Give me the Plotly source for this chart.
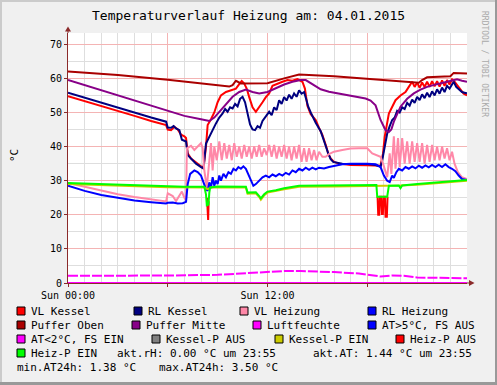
import plotly.graph_objects as go

# ---------------- data (hours since Sun 00:00, °C) ----------------
T_VL_KESSEL = [0, 1, 2, 3, 4, 5, 5.9, 6.0, 6.2, 6.4, 6.6, 6.8, 7.0, 7.1, 7.2, 7.4, 7.7, 8.0, 8.15, 8.3, 8.4,
               8.6, 8.8, 9.0, 9.2, 9.5, 9.8, 10.1, 10.3, 10.45, 10.6, 10.75, 10.9, 11.1, 11.3, 11.5, 11.7, 11.9,
               12.1, 12.3, 12.6, 12.9, 13.2, 13.5, 13.8, 14.1, 14.25, 14.4, 14.6, 14.9, 15.1, 15.3, 15.5, 15.65,
               15.8, 16.0, 16.3, 17.0, 18.0, 18.8, 18.95, 19.05, 19.3, 19.5, 19.7, 20.0, 20.3, 20.5, 20.7, 20.85,
               21.0, 21.15, 21.3, 21.45, 21.6, 21.75, 21.9, 22.05, 22.2, 22.35, 22.5, 22.65, 22.8, 22.95, 23.1,
               23.25, 23.4, 23.6, 23.8, 24.0]
VL_KESSEL = [54.8, 53.4, 52.0, 50.5, 49.0, 47.5, 46.3, 45.0, 44.8, 45.8, 45.0, 43.5, 43.0, 42.5, 38.0, 36.5, 35.3,
             34.2, 33.6, 40.0, 46.3, 48.0, 50.0, 53.0, 55.0, 56.0, 56.5, 57.0, 58.3, 59.2, 58.5, 57.0, 54.5, 51.5,
             50.2, 51.5, 53.0, 54.5, 55.6, 57.8, 58.5, 59.0, 59.5, 59.3, 59.8, 59.0, 57.0, 52.0, 49.5, 47.8, 45.5,
             43.4, 40.5, 38.0, 36.5, 35.5, 35.0, 34.6, 34.5, 34.4, 38.0, 42.9, 49.7, 51.8, 53.6, 55.0, 56.0, 57.5,
             59.0, 57.5, 58.8, 57.2, 58.8, 57.5, 59.0, 57.5, 59.2, 57.7, 59.2, 57.6, 59.4, 57.8, 59.5, 58.2, 59.7,
             59.0, 58.0, 56.5, 55.5, 55.0]

T_RL_KESSEL = [0, 1, 2, 3, 4, 5, 5.9, 6.0, 6.2, 6.35, 6.5, 6.7, 6.85, 7.0, 7.1, 7.2, 7.4, 7.7, 8.0, 8.15, 8.3,
               8.45, 8.6, 8.75, 8.9, 9.1, 9.3, 9.45, 9.6, 9.75, 9.9, 10.05, 10.2, 10.35, 10.5, 10.65, 10.8, 10.95,
               11.1, 11.25, 11.4, 11.55, 11.7, 11.9, 12.1, 12.25, 12.4, 12.55, 12.7, 12.85, 13.0, 13.15, 13.3,
               13.45, 13.6, 13.75, 13.9, 14.05, 14.2, 14.35, 14.45, 14.6, 14.9, 15.2, 15.4, 15.55, 15.65, 15.8,
               15.95, 16.2, 16.5, 17.0, 18.0, 18.5, 18.8, 18.9, 19.0, 19.2, 19.35, 19.5, 19.65, 19.8, 19.95, 20.1,
               20.25, 20.4, 20.55, 20.7, 20.85, 21.0, 21.15, 21.3, 21.45, 21.6, 21.75, 21.9, 22.05, 22.2, 22.35,
               22.5, 22.65, 22.8, 22.95, 23.1, 23.2, 23.35, 23.5, 23.7, 23.85, 24.0]
RL_KESSEL = [55.8, 54.3, 52.8, 51.3, 49.8, 48.5, 47.3, 45.6, 45.5, 46.0, 45.3, 44.8, 42.0, 41.8, 41.5, 37.5, 36.5,
             35.0, 34.0, 33.6, 40.9, 42.5, 43.8, 45.5, 46.8, 48.5, 49.7, 51.0, 50.2, 51.5, 51.2, 52.5, 51.8, 54.0,
             54.6, 53.0, 50.0, 46.5, 45.0, 44.8, 46.0, 45.5, 47.5, 48.7, 50.2, 49.2, 51.5, 50.7, 53.6, 52.5, 54.5,
             53.5, 55.2, 54.0, 55.6, 54.6, 56.5, 55.5, 56.0, 53.5, 51.7, 50.0, 47.0, 44.5, 41.9, 39.5, 38.0, 36.3,
             35.5, 35.2, 35.0, 34.9, 34.9, 34.6, 34.1, 36.0, 39.0, 43.8, 46.0, 47.8, 48.5, 50.5, 50.0, 51.5, 51.0,
             52.8, 52.0, 53.8, 52.8, 54.6, 53.6, 55.3, 54.2, 55.8, 54.5, 56.2, 55.0, 56.8, 55.5, 57.3, 56.0, 57.8,
             57.0, 58.5, 59.0, 57.5, 56.8, 56.0, 55.8, 55.6]

T_VL_HEIZUNG = [0, 1, 2, 3, 4, 5, 5.9, 6.0, 6.3, 6.5, 6.7, 6.85, 7.0, 7.1, 7.15, 7.4, 7.6, 7.8, 8.0, 8.1, 8.2,
                8.35, 8.45, 8.55, 8.6, 8.7, 8.8, 8.95, 9.1, 9.25, 9.4, 9.55, 9.7, 9.85, 10.0, 10.15, 10.3, 10.45,
                10.6, 10.75, 10.9, 11.05, 11.2, 11.35, 11.5, 11.65, 11.8, 11.95, 12.1, 12.25, 12.4, 12.55, 12.7,
                12.85, 13.0, 13.15, 13.3, 13.45, 13.6, 13.75, 13.9, 14.05, 14.2, 14.35, 14.5, 14.65, 14.8, 14.95,
                15.1, 15.3, 15.5, 15.7, 16.0, 16.5, 17.0, 17.5, 18.0, 18.3, 18.6, 18.8, 18.95, 19.1, 19.2, 19.35,
                19.45, 19.6, 19.7, 19.85, 19.95, 20.1, 20.25, 20.4, 20.55, 20.7, 20.85, 21.0, 21.15, 21.3, 21.45,
                21.6, 21.75, 21.9, 22.05, 22.2, 22.35, 22.5, 22.65, 22.8, 22.95, 23.1, 23.25, 23.45, 23.7, 24.0]
VL_HEIZUNG = [29.3, 28.2, 27.0, 26.0, 25.2, 24.5, 23.9, 26.3, 25.5, 24.0, 25.5, 26.8, 25.0, 24.3, 39.5, 40.2,
              39.0, 40.0, 41.0, 39.5, 33.0, 28.0, 34.0, 40.5, 41.0, 33.0, 40.0, 36.0, 41.5, 36.0, 41.0, 36.5, 40.5,
              36.0, 41.0, 37.0, 40.0, 36.5, 40.5, 37.0, 40.0, 36.5, 40.0, 37.0, 40.5, 37.0, 39.5, 37.5, 40.5, 37.0,
              40.5, 36.5, 40.0, 37.0, 40.5, 36.5, 40.0, 36.0, 40.0, 36.5, 40.5, 35.5, 39.5, 35.5, 39.5, 36.0, 39.0,
              36.0, 38.5, 37.0, 37.0, 37.8, 38.5, 39.0, 39.4, 39.5, 39.5, 38.0, 37.3, 37.0, 35.0, 32.5, 31.0, 38.0,
              32.0, 43.0, 33.5, 42.5, 34.0, 42.5, 35.0, 41.5, 35.0, 41.5, 35.5, 41.0, 35.5, 41.0, 35.0, 40.5, 35.5,
              40.5, 36.0, 40.0, 36.0, 40.0, 36.5, 39.5, 36.0, 38.5, 35.0, 32.5, 31.0, 30.5]

T_RL_HEIZUNG = [0, 1, 2, 3, 4, 5, 5.9, 6.0, 6.3, 6.6, 6.9, 7.1, 7.2, 7.35, 7.6, 7.8, 8.0, 8.15, 8.3, 8.4, 8.5,
                8.6, 8.7, 8.8, 8.9, 9.0, 9.1, 9.2, 9.35, 9.5, 9.65, 9.8, 9.95, 10.1, 10.25, 10.4, 10.55, 10.7,
                10.85, 11.0, 11.15, 11.3, 11.5, 11.7, 11.9, 12.1, 12.3, 12.5, 12.7, 12.9, 13.1, 13.3, 13.5, 13.7,
                13.9, 14.1, 14.3, 14.5, 14.7, 14.9, 15.1, 15.4, 15.7, 16.0, 16.5, 17.0, 17.5, 18.0, 18.5, 18.8,
                19.0, 19.2, 19.35, 19.5, 19.6, 19.75, 19.9, 20.1, 20.3, 20.5, 20.7, 20.9, 21.1, 21.3, 21.5, 21.7,
                21.9, 22.1, 22.3, 22.5, 22.7, 22.9, 23.1, 23.3, 23.5, 23.7, 24.0]
RL_HEIZUNG = [28.5, 27.0, 25.8, 25.0, 24.2, 23.7, 23.3, 23.5, 23.6, 23.3, 23.4, 23.8, 29.0, 32.0, 33.0, 32.5,
              31.5, 29.5, 27.5, 27.0, 29.5, 27.8, 31.0, 28.5, 30.0, 29.0, 31.5, 30.0, 32.0, 31.0, 32.5, 32.0, 33.5,
              33.0, 34.0, 33.5, 34.2, 33.5, 32.0, 30.0, 28.5, 29.0, 30.0, 31.0, 31.5, 31.0, 31.8, 31.3, 32.0, 31.5,
              32.3, 31.8, 33.0, 32.5, 33.5, 33.0, 33.8, 33.2, 33.8, 33.3, 33.8, 33.6, 34.0, 34.3, 34.8, 35.0, 35.1,
              35.0, 34.8, 34.0, 31.5, 30.0, 29.6, 31.5, 30.8, 32.5, 33.5, 33.0, 34.0, 33.5, 34.2, 33.6, 34.4, 33.8,
              34.5, 33.9, 34.6, 34.0, 34.7, 34.0, 34.8, 34.0, 33.5, 32.8, 31.5, 30.5, 30.2]

T_PUFFER_OBEN = [0, 3, 6, 9.7, 9.9, 10.1, 10.4, 12, 13, 13.9, 16, 18, 21.1, 21.3, 21.6, 23.0, 23.2, 24]
PUFFER_OBEN = [62.0, 61.0, 59.6, 57.6, 58.0, 59.3, 58.5, 58.6, 60.0, 61.1, 60.6, 59.9, 58.7, 59.5, 60.3, 60.6,
               61.6, 61.4]

T_PUFFER_MITTE = [0, 1, 2, 3, 4, 5, 6, 7, 8, 8.5, 8.8, 9.1, 9.5, 9.9, 10.3, 10.7, 11.1, 11.5, 12.0, 12.5, 13.0,
                  13.5, 14.0, 14.3, 14.8, 15.2, 15.7, 16.5, 17.5, 17.9, 18.2, 18.5, 18.8, 19.1, 19.3, 19.45, 19.6,
                  19.8, 20.0, 20.4, 20.8, 21.2, 21.6, 22.2, 22.8, 23.4, 23.7, 24]
PUFFER_MITTE = [59.5, 58.0, 56.5, 55.0, 53.3, 51.8, 50.3, 49.0, 48.0, 47.5, 48.5, 50.2, 52.5, 54.6, 56.0, 56.7,
                56.0, 55.6, 56.0, 57.2, 58.2, 59.0, 59.5, 59.5, 58.0, 56.8, 56.1, 55.4, 54.6, 54.1, 53.5, 52.1,
                47.8, 44.8, 44.3, 45.0, 47.3, 49.5, 51.7, 54.0, 55.6, 56.7, 57.5, 58.3, 59.0, 59.7, 59.3, 59.0]

T_LUFTFEUCHTE = [0, 3, 6, 9, 10.5, 12, 13, 14, 15, 16, 17.5, 18, 18.8, 19.5, 20.2, 21, 22, 23, 24]
LUFTFEUCHTE = [2.1, 2.1, 2.2, 2.4, 2.8, 3.1, 3.5, 3.5, 3.4, 3.2, 2.8, 2.4, 1.9, 2.2, 2.1, 1.6, 1.5, 1.5, 1.4]

T_AT_KALT = [0, 24]
AT_KALT = [0, 0]

T_KESSEL_P_EIN = [0, 2, 4, 6, 8.2, 8.4, 8.6, 10.7, 10.8, 11.3, 11.5, 11.6, 11.8, 12, 13, 13.9, 16, 18, 19, 20,
                  21, 22, 23, 24]
KESSEL_P_EIN = [29.0, 28.7, 28.4, 28.1, 28.0, 27.5, 28.0, 28.0, 26.2, 26.3, 25.2, 24.4, 25.7, 26.5, 27.5, 28.2,
                28.3, 28.4, 28.5, 28.6, 28.8, 29.2, 29.6, 30.0]

T_HEIZ_P_AUS = [8.36, 8.39, 8.43, 8.46, None, 18.62, 18.66, 18.72, 18.76, 18.84, 18.88, 18.94, 18.98, 19.06,
                19.1, 19.18, 19.22]
HEIZ_P_AUS = [25.0, 18.5, 18.5, 24.0, None, 25.3, 20.0, 20.0, 25.3, 25.3, 20.2, 20.2, 25.3, 25.3, 19.4, 19.4,
              25.3]

T_HEIZ_P_EIN = [0, 2, 4, 6, 7, 8.2, 8.3, 8.35, 8.45, 8.5, 8.55, 9, 10, 10.7, 10.8, 11.0, 11.3, 11.5, 11.6, 11.8,
                12.0, 12.5, 13.0, 13.9, 15, 16, 17, 18, 18.55, 18.6, 19.2, 19.3, 19.9, 20.0, 20.1, 21, 22, 23, 24]
HEIZ_P_EIN = [29.3, 29.0, 28.6, 28.3, 28.2, 28.2, 26.0, 22.8, 23.0, 26.5, 28.0, 28.3, 28.3, 28.2, 26.5, 26.6,
              26.6, 25.5, 24.8, 26.0, 26.8, 27.2, 27.8, 28.5, 28.5, 28.6, 28.5, 28.7, 28.7, 25.3, 25.3, 28.5,
              28.6, 27.8, 28.6, 29.0, 29.4, 29.8, 30.2]

X_TICKS = [0, 6, 12, 18]
X_TICK_LABELS = ["Sun 00:00", "", "Sun 12:00", ""]
Y_TICKS = [0, 10, 20, 30, 40, 50, 60, 70]

TITLE = "Temperaturverlauf Heizung am: 04.01.2015"
LEGEND_LABELS = ["VL Kessel", "RL Kessel", "VL Heizung", "RL Heizung",
                 "Puffer Oben", "Puffer Mitte", "Luftfeuchte", "AT>5°C, FS AUS",
                 "AT<2°C, FS EIN", "Kessel-P AUS", "Kessel-P EIN", "Heiz-P AUS",
                 "Heiz-P EIN"]
INFO_TEXTS = ["akt.rH: 0.00 °C um 23:55", "akt.AT: 1.44 °C um 23:55",
              "min.AT24h: 1.38 °C", "max.AT24h: 3.50 °C"]

# ---------------- styles ----------------
COL = {
    "VL Kessel": "#ff0000", "RL Kessel": "#000080", "VL Heizung": "#ff88a8", "RL Heizung": "#0000ff",
    "Puffer Oben": "#aa0000", "Puffer Mitte": "#880088", "Luftfeuchte": "#ff00ff",
    "AT>5°C, FS AUS": "#0000ff", "AT<2°C, FS EIN": "#ff00ff", "Kessel-P AUS": "#808080",
    "Kessel-P EIN": "#cccc00", "Heiz-P AUS": "#ff0000", "Heiz-P EIN": "#00ff00",
}
MONO = "DejaVu Sans Mono"
W, H = 497, 385
L, T, PW, PH = 68, 33, 399, 250
YMAX = 73.3


def px(x):
    return (x - L) / PW


def py(y):
    return (T + PH - y) / PH


fig = go.Figure()


def add(t, v, name, width=2, dash=None):
    fig.add_trace(go.Scatter(x=t, y=v, mode="lines", name=name, showlegend=False, hoverinfo="skip",
                             connectgaps=False,
                             line=dict(color=COL[name], width=width, dash=dash)))


add(T_VL_KESSEL, VL_KESSEL, "VL Kessel")
add(T_RL_KESSEL, RL_KESSEL, "RL Kessel")
add(T_VL_HEIZUNG, VL_HEIZUNG, "VL Heizung")
add(T_RL_HEIZUNG, RL_HEIZUNG, "RL Heizung")
add(T_PUFFER_OBEN, PUFFER_OBEN, "Puffer Oben")
add(T_PUFFER_MITTE, PUFFER_MITTE, "Puffer Mitte")
add(T_LUFTFEUCHTE, LUFTFEUCHTE, "Luftfeuchte", dash="10px,2px")
add(T_AT_KALT, AT_KALT, "AT<2°C, FS EIN")
add(T_KESSEL_P_EIN, KESSEL_P_EIN, "Kessel-P EIN")
add(T_HEIZ_P_AUS, HEIZ_P_AUS, "Heiz-P AUS")
add(T_HEIZ_P_EIN, HEIZ_P_EIN, "Heiz-P EIN")

AXC = "#8b2a2a"
shapes = []
annotations = []

# frame shading
shapes += [
    dict(type="rect", xref="paper", yref="paper", x0=px(0), x1=px(W), y0=py(2), y1=py(0),
         fillcolor="#cbcbcb", line=dict(width=0), layer="below"),
    dict(type="rect", xref="paper", yref="paper", x0=px(0), x1=px(2), y0=py(H), y1=py(0),
         fillcolor="#cbcbcb", line=dict(width=0), layer="below"),
    dict(type="rect", xref="paper", yref="paper", x0=px(0), x1=px(W), y0=py(H), y1=py(H - 3),
         fillcolor="#999999", line=dict(width=0), layer="below"),
    dict(type="rect", xref="paper", yref="paper", x0=px(W - 2), x1=px(W), y0=py(H), y1=py(0),
         fillcolor="#999999", line=dict(width=0), layer="below"),
]
# axis extensions and arrows
shapes += [
    dict(type="line", xref="paper", yref="paper", x0=0, x1=0, y0=1, y1=py(28),
         line=dict(color=AXC, width=1)),
    dict(type="path", xref="paper", yref="paper",
         path=f"M {px(65)} {py(31.5)} L {px(71)} {py(31.5)} L {px(68)} {py(26.5)} Z",
         fillcolor=AXC, line=dict(color=AXC, width=0)),
    dict(type="line", xref="paper", yref="paper", x0=1, x1=px(470), y0=0, y1=0,
         line=dict(color=AXC, width=1)),
    dict(type="path", xref="paper", yref="paper",
         path=f"M {px(469)} {py(280)} L {px(469)} {py(286)} L {px(474.5)} {py(283)} Z",
         fillcolor=AXC, line=dict(color=AXC, width=0)),
]

# title, axis label, watermark
annotations.append(dict(text=TITLE, xref="paper", yref="paper", x=px(248), y=py(16), xanchor="center",
                        yanchor="middle", showarrow=False, font=dict(family=MONO, size=13, color="#000000")))
annotations.append(dict(text="°C", xref="paper", yref="paper", x=px(14), y=py(156), xanchor="center",
                        yanchor="middle", textangle=-90, showarrow=False,
                        font=dict(family=MONO, size=11, color="#000000")))
annotations.append(dict(text="RRDTOOL / TOBI OETIKER", xref="paper", yref="paper", x=px(485), y=py(64),
                        xanchor="center", yanchor="middle", textangle=90, showarrow=False,
                        font=dict(family=MONO, size=8, color="#aaaaaa")))

# legend (RRD-style, flowing rows)
ROWS_Y = [311, 325, 339, 353, 367]
LEG_POS = [(31, 0), (148, 0), (254, 0), (382, 0),
           (31, 1), (146, 1), (267, 1), (382, 1),
           (31, 2), (166, 2), (289, 2), (410, 2),
           (31, 3)]
for label, (tx, r) in zip(LEGEND_LABELS, LEG_POS):
    cy = ROWS_Y[r]
    sx = tx - 14
    shapes.append(dict(type="rect", xref="paper", yref="paper", x0=px(sx), x1=px(sx + 8),
                       y0=py(cy + 4), y1=py(cy - 4), fillcolor=COL[label],
                       line=dict(color="#000000", width=1)))
    annotations.append(dict(text=label, xref="paper", yref="paper", x=px(tx - 2), y=py(cy),
                            xanchor="left", yanchor="middle", showarrow=False,
                            font=dict(family=MONO, size=11, color="#000000")))
INFO_POS = [(117, 3), (313, 3), (17, 4), (159, 4)]
for txt, (tx, r) in zip(INFO_TEXTS, INFO_POS):
    annotations.append(dict(text=txt, xref="paper", yref="paper", x=px(tx - 2), y=py(ROWS_Y[r]),
                            xanchor="left", yanchor="middle", showarrow=False,
                            font=dict(family=MONO, size=11, color="#000000")))

fig.update_layout(
    width=W, height=H,
    margin=dict(l=L, r=W - L - PW, t=T, b=H - T - PH, pad=0),
    paper_bgcolor="#f0f0f0", plot_bgcolor="#ffffff",
    showlegend=False,
    shapes=shapes, annotations=annotations,
    xaxis=dict(range=[0, 24], tickmode="array", tickvals=X_TICKS, ticktext=X_TICK_LABELS,
               showgrid=True, gridcolor="#f4b4b4", gridwidth=1, zeroline=False,
               showline=True, linecolor=AXC, linewidth=1,
               ticks="outside", ticklen=3, tickcolor=AXC,
               tickfont=dict(family=MONO, size=10, color="#000000"),
               minor=dict(tick0=0, dtick=1, showgrid=True, gridcolor="#dedede", gridwidth=1, ticks="")),
    yaxis=dict(range=[0, YMAX], tickmode="array", tickvals=Y_TICKS,
               showgrid=True, gridcolor="#f4b4b4", gridwidth=1, zeroline=False,
               showline=True, linecolor=AXC, linewidth=1,
               ticks="outside", ticklen=3, tickcolor=AXC,
               tickfont=dict(family=MONO, size=10, color="#000000"),
               minor=dict(tick0=0, dtick=5, showgrid=True, gridcolor="#dedede", gridwidth=1, ticks="")),
)

fig.write_html("out.html", config={"displayModeBar": False, "staticPlot": True},
               post_script="document.body.style.margin='0';document.body.style.padding='0';"
                           "document.documentElement.style.overflow='hidden';")
